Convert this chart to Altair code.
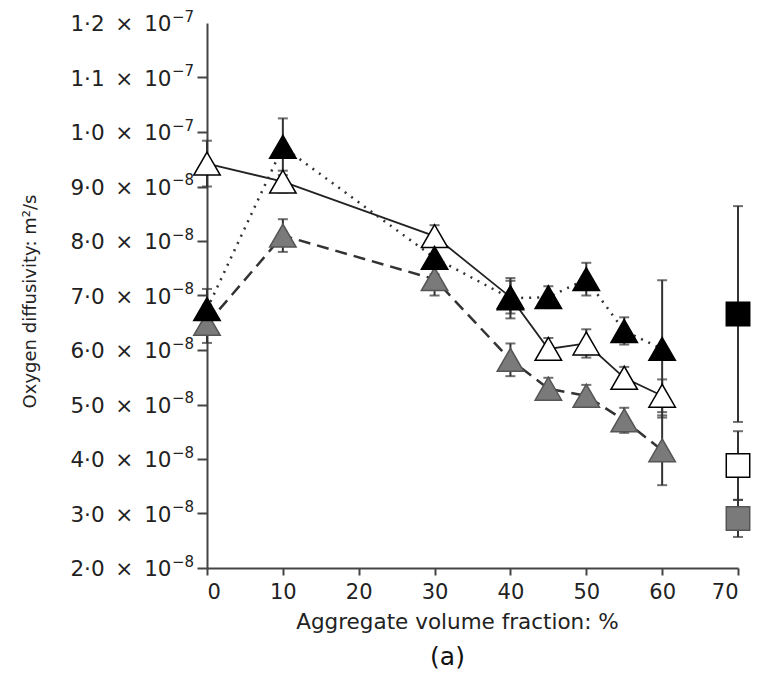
import altair as alt
import pandas as pd

# ---- data (values in units of 1e-8 m^2/s) ----
x_tri = [0, 10, 30, 40, 45, 50, 55, 60]
black_tri = [6.75, 9.73, 7.69, 6.95, 6.97, 7.30, 6.35, 6.02]
black_err = [0.37, 0.52, 0.30, 0.37, 0.20, 0.30, 0.25, 1.26]
white_tri = [9.42, 9.09, 8.09, 6.97, 6.02, 6.12, 5.49, 5.16]
white_err = [0.42, 0.20, 0.20, 0.30, 0.20, 0.26, 0.20, 0.30]
grey_tri = [6.48, 8.10, 7.30, 5.82, 5.29, 5.16, 4.71, 4.16]
grey_err = [0.35, 0.30, 0.30, 0.30, 0.20, 0.20, 0.23, 0.64]

x_sq = [70]
black_sq = [6.66]
black_sq_err = [1.98]
white_sq = [3.88]
white_sq_err = [0.63]
grey_sq = [2.91]
grey_sq_err = [0.34]

x_ticks = [0, 10, 20, 30, 40, 50, 60, 70]
y_ticks = [2, 3, 4, 5, 6, 7, 8, 9, 10, 11, 12]
y_labels = ["2·0", "3·0", "4·0", "5·0", "6·0", "7·0", "8·0", "9·0", "1·0", "1·1", "1·2"]
y_exps = ["−8", "−8", "−8", "−8", "−8", "−8", "−8", "−8", "−7", "−7", "−7"]

series_names = ["grey", "white", "black"]
fills = ["#7a7a7a", "#ffffff", "#000000"]
strokes = ["#555555", "#000000", "#000000"]

FONT = "DejaVu Sans"

rows = []
order = 0
for name, yv, es, yq, eq in [
    ("grey", grey_tri, grey_err, grey_sq, grey_sq_err),
    ("white", white_tri, white_err, white_sq, white_sq_err),
    ("black", black_tri, black_err, black_sq, black_sq_err),
]:
    for x, y, e in zip(x_tri, yv, es):
        order += 1
        rows.append(dict(series=name, kind="tri", x=x, y=y * 1e-8,
                         lo=(y - e) * 1e-8, hi=(y + e) * 1e-8, o=order))
    for x, y, e in zip(x_sq, yq, eq):
        order += 1
        rows.append(dict(series=name, kind="sq", x=x, y=y * 1e-8,
                         lo=(y - e) * 1e-8, hi=(y + e) * 1e-8, o=order))
df = pd.DataFrame(rows)

lab_df = pd.DataFrame({
    "v": [t * 1e-8 for t in y_ticks],
    "main": [l + "\u2002×\u200210" for l in y_labels],
    "exp": y_exps,
})

xs = alt.Scale(domain=[0, 70], nice=False, zero=False)
ys = alt.Scale(domain=[2e-8, 1.2e-7], nice=False, zero=False)

x_axis = alt.Axis(
    values=x_ticks, title="Aggregate volume fraction: %", grid=False,
    labelFontSize=21, titleFontSize=21.5, titleFontWeight="normal",
    labelFont=FONT, titleFont=FONT,
    tickSize=7, tickWidth=2, domainWidth=2, domainColor="#444", tickColor="#444",
    labelColor="#222", titleColor="#222", labelPadding=6,
    titleX=250, titleY=60, titleAlign="center", titleBaseline="alphabetic",
)
y_axis = alt.Axis(
    values=[v * 1e-8 for v in y_ticks], labels=False,
    title="Oxygen diffusivity: m²/s", grid=False,
    titleFontSize=18, titleFontWeight="normal", titleFont=FONT,
    tickSize=10, tickWidth=2, domainWidth=2, domainColor="#444", tickColor="#444",
    titleColor="#222",
    titleX=-177, titleY=278, titleAngle=-90, titleAlign="center", titleBaseline="middle",
)
X = alt.X("x:Q", scale=xs, axis=x_axis)
Y = alt.Y("y:Q", scale=ys, axis=y_axis)
Ylo = alt.Y("lo:Q", scale=ys, axis=y_axis)
Yhi = alt.Y("hi:Q", scale=ys, axis=y_axis)
Yv = alt.Y("v:Q", scale=ys, axis=y_axis)

base = alt.Chart(df)

line_black = base.transform_filter("datum.series == 'black' && datum.kind == 'tri'").mark_line(
    color="#333", strokeWidth=2.5, strokeDash=[2, 6]
).encode(x=X, y=Y)
line_white = base.transform_filter("datum.series == 'white' && datum.kind == 'tri'").mark_line(
    color="#222", strokeWidth=1.8
).encode(x=X, y=Y)
line_grey = base.transform_filter("datum.series == 'grey' && datum.kind == 'tri'").mark_line(
    color="#333", strokeWidth=2.5, strokeDash=[12, 7]
).encode(x=X, y=Y)

err_rule = base.mark_rule(color="#333", strokeWidth=2).encode(x=X, y=Ylo, y2="hi:Q")
err_cap_lo = base.mark_tick(color="#333", orient="horizontal", size=10, thickness=2).encode(x=X, y=Ylo)
err_cap_hi = base.mark_tick(color="#333", orient="horizontal", size=10, thickness=2).encode(x=X, y=Yhi)

points = base.mark_point(filled=True, opacity=1, strokeWidth=1.5).encode(
    x=X, y=Y,
    shape=alt.Shape("kind:N", scale=alt.Scale(domain=["tri", "sq"], range=["triangle-up", "square"]), legend=None),
    size=alt.Size("kind:N", scale=alt.Scale(domain=["tri", "sq"], range=[700, 550]), legend=None),
    fill=alt.Fill("series:N", scale=alt.Scale(domain=series_names, range=fills), legend=None),
    stroke=alt.Stroke("series:N", scale=alt.Scale(domain=series_names, range=strokes), legend=None),
    order=alt.Order("o:Q"),
)

lab_base = alt.Chart(lab_df)
lab_main = lab_base.mark_text(align="right", baseline="middle", dy=2, font=FONT,
                              fontSize=21.5, color="#222").encode(
    x=alt.value(-35.5), y=Yv, text="main:N")
lab_exp = lab_base.mark_text(align="left", baseline="middle", dy=-6.5, font=FONT,
                             fontSize=15, color="#222").encode(
    x=alt.value(-35), y=Yv, text="exp:N")

chart = alt.layer(line_grey, line_white, line_black, err_rule, err_cap_lo, err_cap_hi, points,
                  lab_main, lab_exp).properties(
    width=531, height=545,
    title=alt.TitleParams("(a)", orient="bottom", fontSize=25, fontWeight="normal",
                          font=FONT, color="#111", anchor="middle", dx=-25, offset=12),
    autosize=alt.AutoSizeParams(type="none"),
    padding={"left": 199, "top": 15, "right": 14, "bottom": 108},
).configure_view(stroke=None)

chart.save("out.html", embed_options={"renderer": "svg", "actions": False})
